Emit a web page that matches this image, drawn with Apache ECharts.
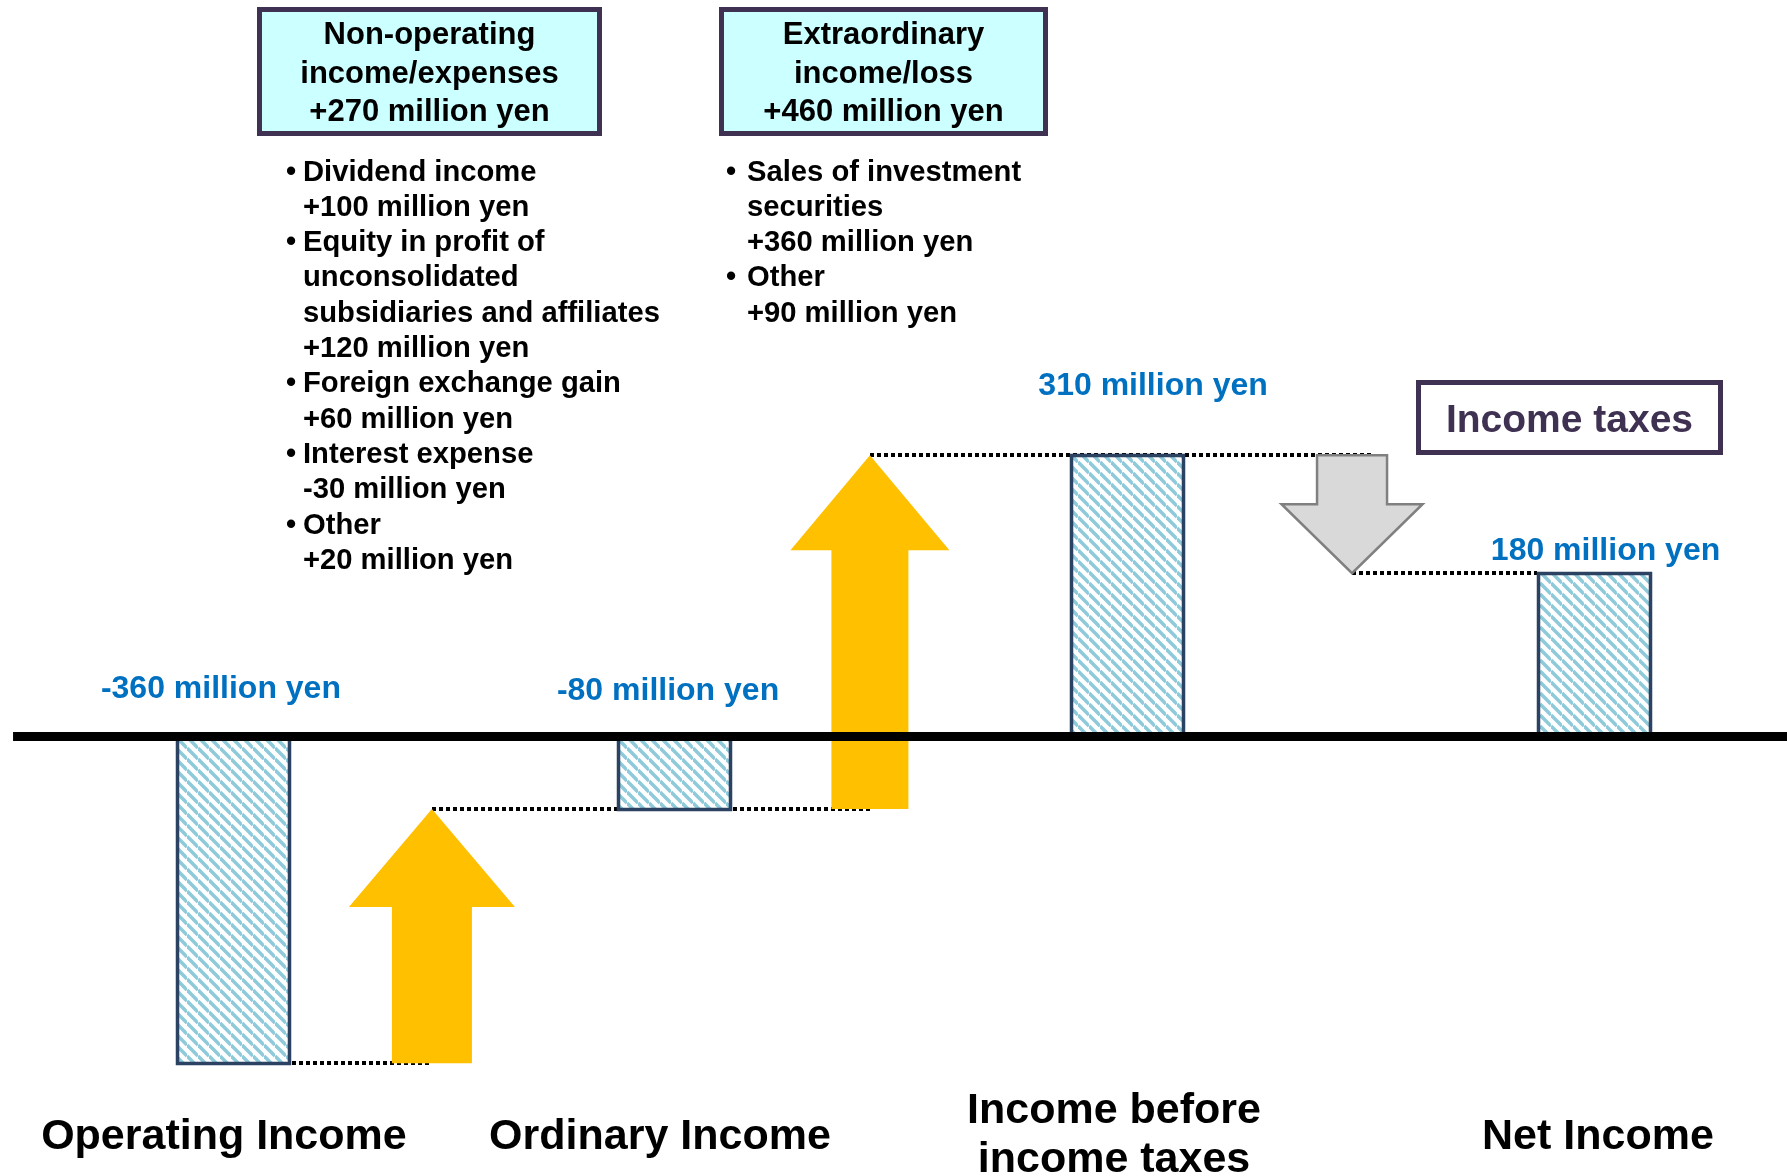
<!DOCTYPE html>
<html><head><meta charset="utf-8">
<script src="https://cdn.jsdelivr.net/npm/echarts@6/dist/echarts.min.js"></script>
<style>html,body{margin:0;padding:0;background:#fff}#c{width:1787px;height:1176px}</style>
</head><body><div id="c"></div>
<script>
// ---------------- data ----------------
const categories = ['Operating Income', 'Ordinary Income', 'Income before\nincome taxes', 'Net Income'];
const values = [-360, -80, 310, 180];
const valueLabels = ['-360 million yen', '-80 million yen', '310 million yen', '180 million yen'];
const stepTitles = ['Non-operating\nincome/expenses\n+270 million yen', 'Extraordinary\nincome/loss\n+460 million yen', 'Income taxes'];
const nonOperatingItems = [
  ['Dividend income', '+100 million yen'],
  ['Equity in profit of', 'unconsolidated', 'subsidiaries and affiliates', '+120 million yen'],
  ['Foreign exchange gain', '+60 million yen'],
  ['Interest expense', '-30 million yen'],
  ['Other', '+20 million yen']
];
const extraordinaryItems = [
  ['Sales of investment', 'securities', '+360 million yen'],
  ['Other', '+90 million yen']
];

// ---------------- layout (positions in axis units, 0..100 across the page) ----------------
const barX = [13.09, 37.72, 63.07, 89.23];
const arrowX = [24.17, 48.68, 75.66];
const catX = [12.53, 36.93, 62.34, 89.42];
const labelOff = [[-13, -47.5], [-6, -45], [26, -69.5], [11, -21.5]];
const arrowDims = [ // shaft width, head width, head length (px)
  [80, 166, 98], [77, 159, 95], [70, 141, 69]
];
const BAR_W = 112;
const FONT = '"Liberation Sans", Arial, Helvetica, sans-serif';

function makeHatch() {
  const P = 11, c = document.createElement('canvas');
  c.width = P; c.height = P;
  const g = c.getContext('2d');
  g.fillStyle = '#ffffff'; g.fillRect(0, 0, P, P);
  g.strokeStyle = '#8FCADB'; g.lineWidth = 3.6;
  for (const o of [-P, 0, P]) { g.beginPath(); g.moveTo(0, o); g.lineTo(P, o + P); g.stroke(); }
  return c;
}
const hatch = makeHatch();

// derived marks
const barData = values.map((v, i) => [barX[i], v]);
const arrowData = arrowX.map((x, i) => [x, values[i], values[i + 1], i]);
// connectors: [xStart, xEnd, level, dxStartPx, dxEndPx]
const connectorData = [
  [barX[0], arrowX[0], values[0], BAR_W / 2 + 2, 0],
  [arrowX[0], arrowX[1], values[1], 0, 0],
  [arrowX[1], arrowX[2], values[2], 0, 21],
  [arrowX[2], barX[3], values[3], 0, -BAR_W / 2 - 2]
];
const labelData = values.map((v, i) => [barX[i], v, i]);
const catData = categories.map((c, i) => [catX[i], 0, i]);

const chart = echarts.init(document.getElementById('c'), null, { renderer: 'canvas' });

const graphic = [];
// step boxes
const boxes = [
  { x: 259.5, y: 9.5, w: 340, h: 124, fill: '#CCFFFF', text: stepTitles[0], size: 31, color: '#000', lh: 38.5, ty: 74 },
  { x: 721.5, y: 9.5, w: 324, h: 124, fill: '#CCFFFF', text: stepTitles[1], size: 31, color: '#000', lh: 38.5, ty: 74 },
  { x: 1418.5, y: 382.5, w: 302, h: 70, fill: '#FFFFFF', text: stepTitles[2], size: 39, color: '#3F3151', lh: 44, ty: 421.5 }
];
boxes.forEach(b => {
  graphic.push({ type: 'rect', z: 10, shape: { x: b.x, y: b.y, width: b.w, height: b.h },
    style: { fill: b.fill, stroke: '#3F3151', lineWidth: 5 } });
  graphic.push({ type: 'text', z: 11, x: b.x + b.w / 2, y: b.ty,
    style: { text: b.text, fill: b.color, fontFamily: FONT, fontWeight: 'bold', fontSize: b.size,
      lineHeight: b.lh, align: 'center', verticalAlign: 'middle' } });
});
// bullet lists
function addList(items, bulletX, textX, y0) {
  let k = 0;
  items.forEach(lines => {
    lines.forEach((ln, j) => {
      const y = y0 + k * 35.3;
      if (j === 0) graphic.push({ type: 'text', z: 11, x: bulletX, y: y,
        style: { text: '•', fill: '#000', fontFamily: FONT, fontWeight: 'bold', fontSize: 29, align: 'center', verticalAlign: 'middle' } });
      graphic.push({ type: 'text', z: 11, x: textX, y: y,
        style: { text: ln, fill: '#000', fontFamily: FONT, fontWeight: 'bold', fontSize: 29.2, align: 'left', verticalAlign: 'middle' } });
      k++;
    });
  });
}
addList(nonOperatingItems, 291, 303, 172.5);
addList(extraordinaryItems, 731, 747, 172.5);

const snap = v => Math.round(v - 0.5) + 0.5;

chart.setOption({
  animation: false,
  backgroundColor: '#ffffff',
  grid: { left: 0, right: 0, top: 373.5, bottom: 76.5 },
  xAxis: { type: 'value', min: 0, max: 100, show: false },
  yAxis: { type: 'value', min: -400, max: 400, show: false },
  graphic: graphic,
  series: [
    { // dotted connectors
      type: 'custom', z: 1, clip: false, data: connectorData,
      renderItem(params, api) {
        const a = api.coord([api.value(0), api.value(2)]);
        const b = api.coord([api.value(1), api.value(2)]);
        const y = Math.round(a[1]);
        return { type: 'line', shape: { x1: Math.round(a[0] + api.value(3)), y1: y, x2: Math.round(b[0] + api.value(4)), y2: y },
          style: { stroke: '#000', lineWidth: 4, lineDash: [4, 3], lineCap: 'butt' } };
      }
    },
    { // arrows
      type: 'custom', z: 2, clip: false, data: arrowData,
      renderItem(params, api) {
        const x = api.value(0), i = api.value(3);
        const p0 = api.coord([x, api.value(1)]), p1 = api.coord([x, api.value(2)]);
        const [sw, hw, hl] = arrowDims[i];
        const cx = p0[0], y0 = p0[1], y1 = p1[1];
        const dir = y1 > y0 ? 1 : -1;
        const yb = y1 - dir * hl;
        const pts = [[cx - sw / 2, y0], [cx - sw / 2, yb], [cx - hw / 2, yb], [cx, y1],
          [cx + hw / 2, yb], [cx + sw / 2, yb], [cx + sw / 2, y0]];
        const down = dir > 0;
        return { type: 'polygon', shape: { points: pts },
          style: down ? { fill: '#D9D9D9', stroke: '#808080', lineWidth: 2.5 } : { fill: '#FFC000' } };
      }
    },
    { // bars
      type: 'custom', z: 3, clip: false, data: barData,
      renderItem(params, api) {
        const x = api.value(0), v = api.value(1);
        const p0 = api.coord([x, 0]), p1 = api.coord([x, v]);
        const left = snap(p0[0] - BAR_W / 2);
        const top = snap(Math.min(p0[1], p1[1]));
        const h = Math.round(Math.abs(p1[1] - p0[1]));
        return { type: 'rect',
          shape: { x: left, y: top, width: BAR_W, height: h },
          style: { fill: { image: hatch, repeat: 'repeat' }, stroke: '#2B4262', lineWidth: 3.5 } };
      }
    },
    { // zero baseline
      type: 'custom', z: 4, clip: false, data: [[0.73, 100]],
      renderItem(params, api) {
        const a = api.coord([api.value(0), 0]), b = api.coord([api.value(1), 0]);
        return { type: 'line', shape: { x1: a[0], y1: a[1], x2: b[0], y2: b[1] },
          style: { stroke: '#000', lineWidth: 9 } };
      }
    },
    { // value labels
      type: 'custom', z: 5, clip: false, data: labelData,
      renderItem(params, api) {
        const x = api.value(0), v = api.value(1), i = api.value(2);
        const p = api.coord([x, Math.max(v, 0)]);
        return { type: 'text', x: p[0] + labelOff[i][0], y: p[1] + labelOff[i][1],
          style: { text: valueLabels[i], fill: '#0070C0', fontFamily: FONT, fontWeight: 'bold', fontSize: 32,
            align: 'center', verticalAlign: 'middle' } };
      }
    },
    { // category labels
      type: 'custom', z: 5, clip: false, data: catData,
      renderItem(params, api) {
        const i = api.value(2);
        const p = api.coord([api.value(0), 0]);
        const two = categories[i].indexOf('\n') >= 0;
        return { type: 'text', x: p[0], y: two ? 1135.5 : 1137,
          style: { text: categories[i], fill: '#000', fontFamily: FONT, fontWeight: 'bold', fontSize: 43,
            lineHeight: 49, align: 'center', verticalAlign: 'middle' } };
      }
    }
  ]
});
</script>
</body></html>
